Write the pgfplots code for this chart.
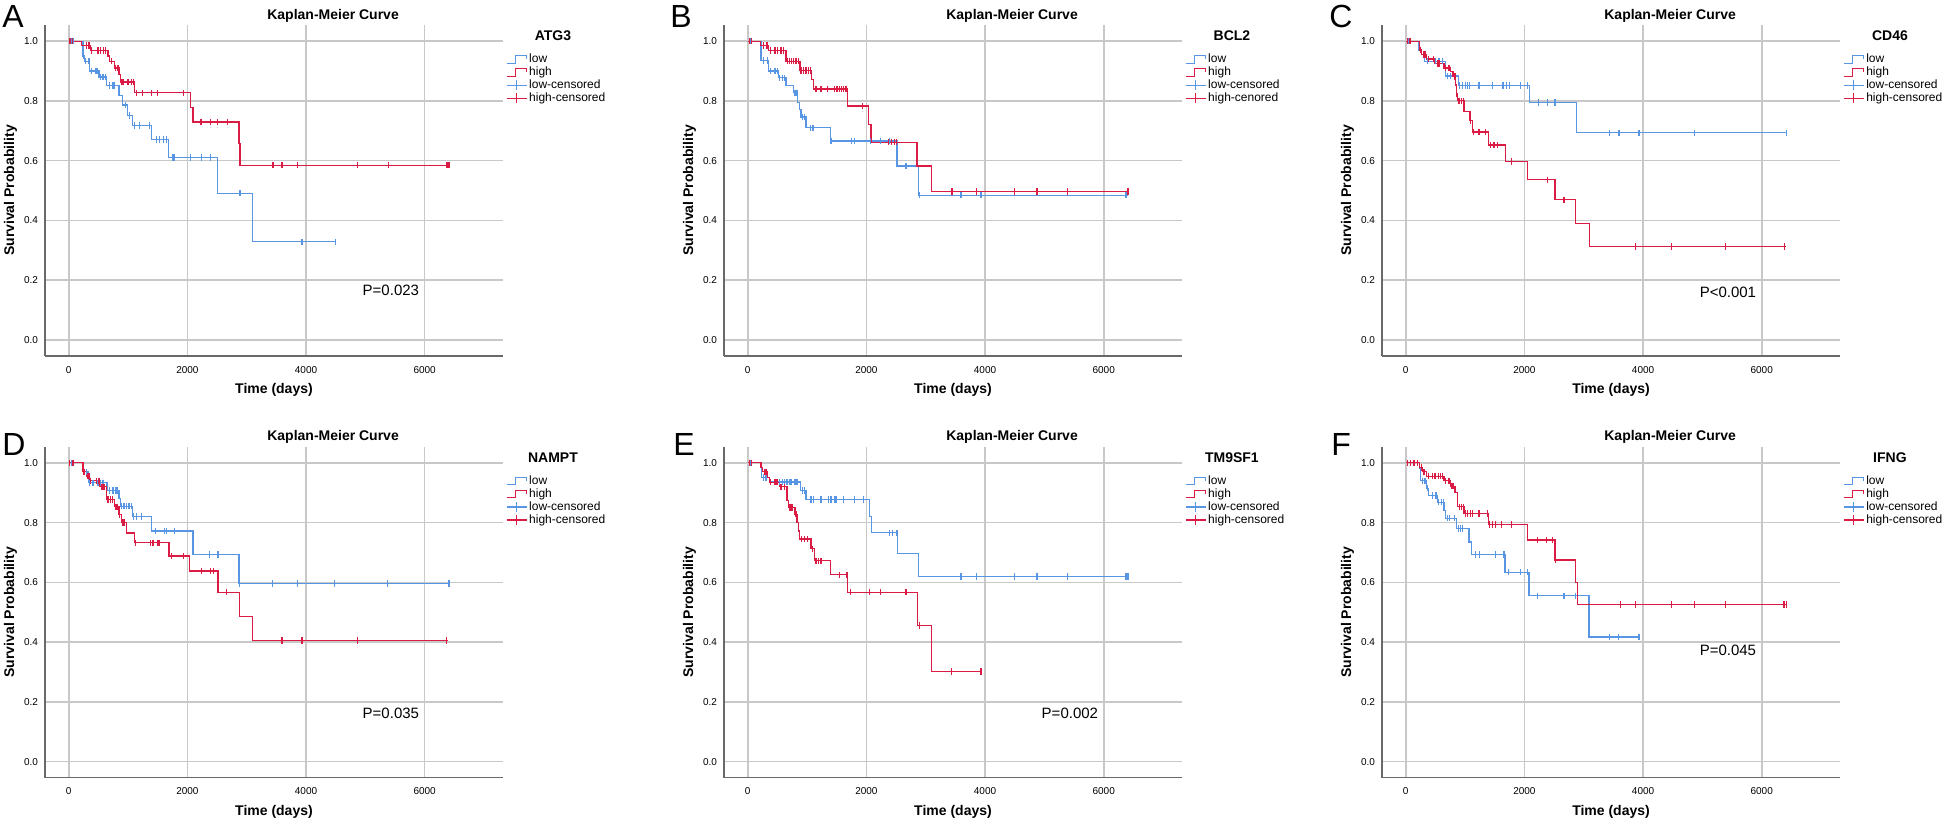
\documentclass[border=0pt]{standalone}
\usepackage{fontspec}
\setmainfont{Liberation Sans}
\usepackage{pgfplots}
\pgfplotsset{compat=1.18}
\definecolor{kmblue}{RGB}{88,150,228}
\definecolor{kmred}{RGB}{218,28,68}
\definecolor{gridgray}{RGB}{200,200,200}
\definecolor{axgray}{RGB}{105,105,105}

\pgfplotsset{
 kmaxis/.style={
  scale only axis, width=229pt, height=165.5pt,
  xmin=-400, xmax=7320, ymin=-0.054, ymax=1.054,
  axis lines=left,
  axis line style={-, draw=axgray, line width=0.75pt},
  xtick={0,2000,4000,6000},
  ytick={0,0.2,0.4,0.6,0.8,1.0},
  major tick length=0pt,
  tick style={draw=none},
  grid=major,
  major grid style={draw=gridgray, line width=0.8pt},
  xticklabel style={font=\fontsize{5}{6}\selectfont, yshift=-1.5pt},
  yticklabel style={font=\fontsize{5}{6}\selectfont},
  x tick label style={/pgf/number format/.cd, 1000 sep={}, assume math mode=true},
  y tick label style={/pgf/number format/.cd, fixed, fixed zerofill, precision=1, assume math mode=true},
  xlabel={Time (days)}, ylabel={Survival Probability},
  xlabel style={font=\bfseries\fontsize{7}{8}\selectfont, at={(axis description cs:0.5,-0.102)}, anchor=center},
  ylabel style={font=\bfseries\fontsize{7}{8}\selectfont, at={(axis description cs:-0.0753,0.5)}, anchor=center},
  legend cell align=left,
  legend style={at={(axis description cs:1.0066,0.914)}, anchor=north west, draw=none, fill=none,
    inner sep=0pt, outer sep=0pt, row sep=0pt, column sep=1pt, font=\fontsize{6}{6.5}\selectfont,
    nodes={inner sep=0pt, text height=4.6pt, text depth=1.9pt}},
  clip=false,
 },
 lowline/.style={const plot, color=kmblue, line width=0.6pt, mark=none, forget plot},
 highline/.style={const plot, color=kmred, line width=0.6pt, mark=none, forget plot},
 lowcens/.style={only marks, mark=|, mark size=1.6pt, mark options={draw=kmblue, line width=0.6pt}, forget plot},
 highcens/.style={only marks, mark=|, mark size=1.6pt, mark options={draw=kmred, line width=0.6pt}, forget plot},
}

\newcommand{\kmlegend}[2]{%
  \addlegendimage{legend image code/.code={\draw[kmblue,line width=0.6pt] (0pt,-1.6pt)--(4.6pt,-1.6pt)--(4.6pt,2.2pt)--(10pt,2.2pt)--(10pt,0.4pt);}}
  \addlegendentry{low}
  \addlegendimage{legend image code/.code={\draw[kmred,line width=0.6pt] (0pt,-1.6pt)--(4.6pt,-1.6pt)--(4.6pt,2.2pt)--(10pt,2.2pt)--(10pt,0.4pt);}}
  \addlegendentry{high}
  \addlegendimage{legend image code/.code={\draw[kmblue,line width=0.6pt] (0pt,0.3pt)--(10pt,0.3pt) (5pt,-2.2pt)--(5pt,2.8pt);}}
  \addlegendentry{low-censored}
  \addlegendimage{legend image code/.code={\draw[kmred,line width=0.6pt] (0pt,0.3pt)--(10pt,0.3pt) (5pt,-2.2pt)--(5pt,2.8pt);}}
  \addlegendentry{#2}
  \node[font=\bfseries\fontsize{7}{8}\selectfont, anchor=center] at (axis description cs:1.109,0.967) {#1};
  \node[font=\bfseries\fontsize{7}{8}\selectfont, anchor=center] at (axis description cs:0.629,1.029) {Kaplan-Meier Curve};
}
\newcommand{\pval}[2]{\node[font=\fontsize{7.5}{9}\selectfont, anchor=center] at (axis cs:5430,#2) {#1};}

\begin{document}
\begin{tikzpicture}
\useasboundingbox (0,0) rectangle (973pt,410pt);

\node[font=\fontsize{16}{18}\selectfont, anchor=base west, inner sep=0pt] at (1pt,396pt) {A};
\node[font=\fontsize{16}{18}\selectfont, anchor=base west, inner sep=0pt] at (335pt,396pt) {B};
\node[font=\fontsize{16}{18}\selectfont, anchor=base west, inner sep=0pt] at (664.5pt,396pt) {C};
\node[font=\fontsize{16}{18}\selectfont, anchor=base west, inner sep=0pt] at (1pt,182.5pt) {D};
\node[font=\fontsize{16}{18}\selectfont, anchor=base west, inner sep=0pt] at (336.5pt,182.5pt) {E};
\node[font=\fontsize{16}{18}\selectfont, anchor=base west, inner sep=0pt] at (665.5pt,182.5pt) {F};

% ---------------- A: ATG3
\begin{axis}[kmaxis, at={(22.5pt,232pt)}, anchor=south west]
\addplot[lowline] coordinates {(0,1) (241,0.95) (270,0.933) (354,0.9) (511,0.88) (635,0.852) (848,0.818) (904,0.786) (989,0.751) (1073,0.718) (1393,0.671) (1685,0.61) (2511,0.491) (3096,0.328) (4490,0.328)};
\addplot[highline] coordinates {(0,1) (219,0.985) (365,0.968) (663,0.95) (691,0.933) (775,0.91) (848,0.888) (876,0.863) (1112,0.827) (2051,0.779) (2096,0.729) (2871,0.657) (2888,0.585) (6411,0.585)};
\addplot[lowcens] coordinates {(50,1) (75,1) (253,0.95) (287,0.933) (343,0.933) (382,0.9) (455,0.9) (478,0.9) (534,0.88) (579,0.88) (618,0.88) (691,0.852) (736,0.852) (764,0.852) (961,0.786) (1028,0.751) (1112,0.718) (1197,0.718) (1365,0.718) (1478,0.671) (1534,0.671) (1601,0.671) (1646,0.671) (1747,0.61) (1775,0.61) (2056,0.61) (2236,0.61) (2388,0.61) (2888,0.491) (3932,0.328) (4490,0.328)};
\addplot[highcens] coordinates {(20,1) (60,1) (298,0.985) (343,0.985) (382,0.968) (494,0.968) (534,0.968) (590,0.968) (618,0.968) (719,0.933) (792,0.91) (831,0.91) (899,0.863) (927,0.863) (1000,0.863) (1056,0.863) (1096,0.863) (1140,0.827) (1242,0.827) (1393,0.827) (1494,0.827) (1938,0.827) (2230,0.729) (2393,0.729) (2506,0.729) (2674,0.729) (3443,0.585) (3582,0.585) (3603,0.585) (3862,0.585) (4874,0.585) (5384,0.585) (6376,0.585) (6411,0.585)};
\kmlegend{ATG3}{high-censored}
\pval{P=0.023}{0.165}
\end{axis}

% ---------------- B: BCL2
\begin{axis}[kmaxis, at={(362pt,232pt)}, anchor=south west]
\addplot[lowline] coordinates {(0,1) (225,0.935) (348,0.9) (520,0.877) (646,0.852) (770,0.827) (843,0.794) (871,0.771) (899,0.746) (983,0.71) (1393,0.666) (2517,0.582) (2882,0.484) (6411,0.484)};
\addplot[highline] coordinates {(0,1) (213,0.985) (348,0.968) (646,0.933) (882,0.902) (1079,0.872) (1112,0.84) (1685,0.783) (2039,0.721) (2079,0.662) (2854,0.582) (3101,0.496) (6411,0.496)};
\addplot[lowcens] coordinates {(50,1) (270,0.935) (337,0.935) (382,0.9) (461,0.9) (506,0.9) (534,0.877) (590,0.877) (618,0.877) (787,0.827) (815,0.827) (831,0.827) (927,0.746) (955,0.746) (1056,0.71) (1096,0.71) (1112,0.71) (1404,0.666) (1753,0.666) (1798,0.666) (2067,0.666) (2236,0.666) (2388,0.666) (2669,0.582) (2899,0.484) (3582,0.484) (3596,0.484) (3932,0.484) (6376,0.484)};
\addplot[highcens] coordinates {(30,1) (60,1) (270,0.985) (326,0.985) (382,0.968) (461,0.968) (506,0.968) (562,0.968) (607,0.968) (674,0.933) (702,0.933) (742,0.933) (775,0.933) (815,0.933) (854,0.933) (899,0.902) (944,0.902) (983,0.902) (1022,0.902) (1056,0.902) (1152,0.84) (1236,0.84) (1348,0.84) (1461,0.84) (1506,0.84) (1545,0.84) (1584,0.84) (1618,0.84) (1657,0.84) (1938,0.783) (2371,0.662) (2427,0.662) (2472,0.662) (2506,0.662) (3443,0.496) (3862,0.496) (4490,0.496) (4874,0.496) (5384,0.496) (6411,0.496)};
\kmlegend{BCL2}{high-cenored}
\end{axis}

% ---------------- C: CD46
\begin{axis}[kmaxis, at={(691pt,232pt)}, anchor=south west]
\addplot[lowline] coordinates {(0,1) (213,0.97) (270,0.955) (320,0.933) (669,0.883) (888,0.852) (2090,0.794) (2882,0.693) (6411,0.693)};
\addplot[highline] coordinates {(0,1) (225,0.97) (270,0.955) (348,0.94) (494,0.925) (646,0.91) (758,0.897) (798,0.882) (843,0.853) (854,0.824) (871,0.8) (983,0.765) (1084,0.733) (1129,0.696) (1393,0.652) (1685,0.597) (2051,0.536) (2517,0.469) (2865,0.39) (3101,0.313) (6411,0.313)};
\addplot[lowcens] coordinates {(40,1) (80,1) (365,0.933) (500,0.933) (562,0.933) (618,0.933) (700,0.883) (760,0.883) (910,0.852) (955,0.852) (1011,0.852) (1039,0.852) (1079,0.852) (1236,0.852) (1461,0.852) (1640,0.852) (1697,0.852) (1742,0.852) (1938,0.852) (2051,0.852) (2236,0.794) (2388,0.794) (2517,0.794) (3436,0.693) (3582,0.693) (3596,0.693) (3932,0.693) (4867,0.693) (6411,0.693)};
\addplot[highcens] coordinates {(28,1) (70,1) (253,0.97) (309,0.955) (326,0.955) (382,0.94) (461,0.94) (534,0.925) (562,0.925) (674,0.91) (719,0.91) (742,0.91) (815,0.882) (831,0.882) (860,0.824) (899,0.8) (944,0.8) (972,0.8) (1096,0.733) (1140,0.696) (1236,0.696) (1348,0.696) (1433,0.652) (1489,0.652) (1545,0.652) (1787,0.597) (2388,0.536) (2669,0.469) (3876,0.313) (4483,0.313) (5391,0.313) (6390,0.313)};
\kmlegend{CD46}{high-censored}
\pval{P<0.001}{0.16}
\end{axis}

% ---------------- D: NAMPT
\begin{axis}[kmaxis, at={(22.5pt,21.15pt)}, anchor=south west]
\addplot[lowline] coordinates {(0,1) (230,0.97) (326,0.955) (343,0.933) (646,0.908) (848,0.88) (876,0.855) (1073,0.821) (1393,0.772) (2096,0.693) (2871,0.596) (6411,0.596)};
\addplot[highline] coordinates {(0,1) (241,0.97) (298,0.955) (354,0.94) (522,0.92) (635,0.877) (775,0.853) (848,0.826) (888,0.8) (972,0.765) (1112,0.732) (1691,0.688) (2039,0.638) (2517,0.567) (2882,0.485) (3096,0.405) (6390,0.405)};
\addplot[lowcens] coordinates {(50,1) (80,1) (270,0.97) (298,0.97) (354,0.933) (410,0.933) (494,0.933) (534,0.933) (579,0.933) (691,0.908) (747,0.908) (792,0.908) (815,0.908) (888,0.855) (933,0.855) (972,0.855) (1017,0.855) (1056,0.855) (1096,0.821) (1140,0.821) (1225,0.821) (1466,0.772) (1618,0.772) (1646,0.772) (1787,0.772) (2376,0.693) (2517,0.693) (2884,0.596) (3429,0.596) (3862,0.596) (4476,0.596) (5377,0.596) (6411,0.596)};
\addplot[highcens] coordinates {(17,1) (73,1) (253,0.97) (270,0.97) (326,0.955) (343,0.955) (365,0.94) (466,0.94) (511,0.94) (551,0.92) (579,0.92) (607,0.92) (663,0.877) (702,0.877) (736,0.877) (792,0.853) (815,0.853) (860,0.826) (916,0.8) (944,0.8) (1129,0.732) (1376,0.732) (1421,0.732) (1506,0.732) (1534,0.732) (1730,0.688) (1938,0.688) (2236,0.638) (2388,0.638) (2444,0.638) (2657,0.567) (3582,0.405) (3603,0.405) (3932,0.405) (4874,0.405) (6362,0.405)};
\kmlegend{NAMPT}{high-censored}
\pval{P=0.035}{0.161}
\end{axis}

% ---------------- E: TM9SF1
\begin{axis}[kmaxis, at={(362pt,21.15pt)}, anchor=south west]
\addplot[lowline] coordinates {(0,1) (236,0.951) (365,0.936) (888,0.908) (983,0.877) (2051,0.82) (2090,0.766) (2528,0.697) (2882,0.62) (6411,0.62)};
\addplot[highline] coordinates {(0,1) (225,0.985) (253,0.97) (337,0.952) (365,0.935) (534,0.92) (663,0.875) (685,0.85) (798,0.828) (831,0.8) (854,0.772) (871,0.745) (1067,0.712) (1124,0.672) (1393,0.625) (1685,0.567) (2865,0.455) (3101,0.302) (3932,0.302)};
\addplot[lowcens] coordinates {(50,1) (270,0.951) (309,0.951) (461,0.936) (506,0.936) (534,0.936) (590,0.936) (618,0.936) (663,0.936) (702,0.936) (730,0.936) (798,0.936) (831,0.936) (927,0.908) (955,0.908) (1067,0.877) (1112,0.877) (1236,0.877) (1360,0.877) (1404,0.877) (1461,0.877) (1489,0.877) (1618,0.877) (1798,0.877) (1955,0.877) (2388,0.766) (2444,0.766) (2517,0.766) (3582,0.62) (3596,0.62) (3862,0.62) (4490,0.62) (4874,0.62) (5384,0.62) (6376,0.62) (6411,0.62)};
\addplot[highcens] coordinates {(30,1) (60,1) (281,0.97) (309,0.97) (382,0.935) (461,0.935) (494,0.935) (562,0.92) (618,0.92) (702,0.85) (730,0.85) (758,0.85) (815,0.828) (910,0.745) (955,0.745) (1011,0.745) (1096,0.712) (1152,0.672) (1191,0.672) (1236,0.672) (1545,0.625) (1674,0.625) (1730,0.567) (2051,0.567) (2236,0.567) (2669,0.567) (2893,0.455) (3429,0.302) (3932,0.302)};
\kmlegend{TM9SF1}{high-censored}
\pval{P=0.002}{0.16}
\end{axis}

% ---------------- F: IFNG
\begin{axis}[kmaxis, at={(691pt,21.15pt)}, anchor=south west]
\addplot[lowline] coordinates {(0,1) (225,0.98) (253,0.94) (354,0.915) (382,0.89) (534,0.868) (646,0.84) (674,0.815) (854,0.78) (1067,0.735) (1112,0.693) (1674,0.634) (2079,0.555) (3090,0.417) (3932,0.417)};
\addplot[highline] coordinates {(0,1) (236,0.985) (281,0.97) (348,0.955) (646,0.94) (758,0.922) (831,0.9) (871,0.853) (983,0.83) (1393,0.793) (2051,0.742) (2517,0.675) (2865,0.6) (2893,0.526) (6411,0.526)};
\addplot[lowcens] coordinates {(281,0.94) (326,0.94) (365,0.915) (455,0.89) (510,0.89) (551,0.868) (607,0.868) (630,0.868) (702,0.815) (742,0.815) (815,0.815) (888,0.78) (927,0.78) (955,0.78) (1180,0.693) (1242,0.693) (1517,0.693) (1657,0.693) (1730,0.634) (1938,0.634) (2051,0.634) (2219,0.555) (2669,0.555) (2865,0.555) (3436,0.417) (3582,0.417) (3932,0.417)};
\addplot[highcens] coordinates {(28,1) (84,1) (140,1) (197,1) (270,0.985) (309,0.97) (382,0.955) (449,0.955) (478,0.955) (506,0.955) (551,0.955) (590,0.955) (618,0.955) (674,0.94) (730,0.94) (775,0.922) (798,0.922) (910,0.853) (944,0.853) (972,0.853) (1011,0.83) (1039,0.83) (1096,0.83) (1124,0.83) (1236,0.83) (1376,0.83) (1416,0.793) (1461,0.793) (1506,0.793) (1618,0.793) (1787,0.793) (2219,0.742) (2371,0.742) (2472,0.742) (2528,0.675) (3617,0.526) (3876,0.526) (4483,0.526) (4867,0.526) (5391,0.526) (6376,0.526) (6411,0.526)};
\kmlegend{IFNG}{high-censored}
\pval{P=0.045}{0.371}
\end{axis}
\end{tikzpicture}
\end{document}
